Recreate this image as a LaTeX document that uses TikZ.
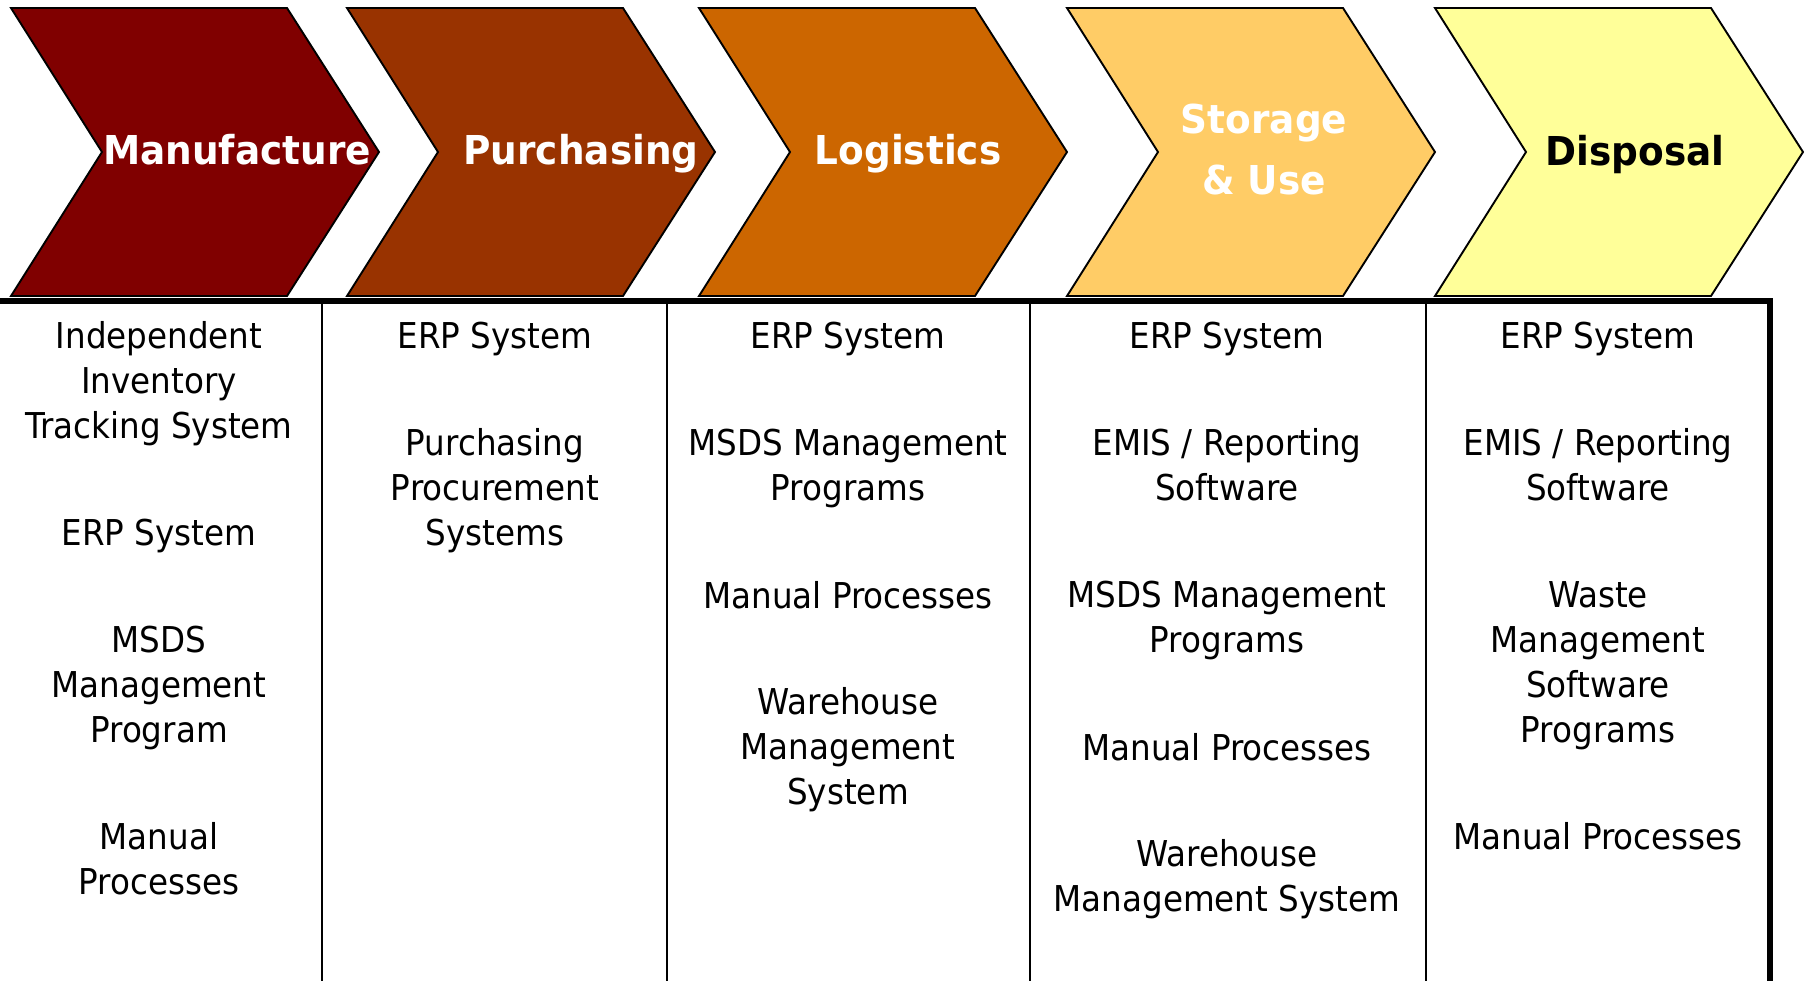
\documentclass[tikz,border=0pt]{standalone}
\usepackage{fontspec}
\setmainfont{DejaVu Sans}[FakeStretch=0.915]
\newfontfamily\hdfont{DejaVu Sans}[FakeStretch=0.94]
\definecolor{cManu}{HTML}{800000}
\definecolor{cPurch}{HTML}{993300}
\definecolor{cLog}{HTML}{CC6600}
\definecolor{cStor}{HTML}{FFCC66}
\definecolor{cDisp}{HTML}{FFFF99}
\begin{document}
\begin{tikzpicture}[x=0.5pt,y=-0.5pt,
  chev/.style={draw=black,line width=0.95pt,line join=miter},
  hd/.style={font=\hdfont\bfseries\fontsize{19.9}{30.5}\selectfont,anchor=base,align=center,inner sep=0pt},
  body/.style={font=\fontsize{17.8}{22.4}\selectfont,anchor=base,align=center,inner sep=0pt},
  toprule/.style={line width=2.6pt},
  divider/.style={line width=1.4pt}]
\useasboundingbox (0,0) rectangle (1805,981);
% chevrons
\foreach \L/\c in {11/cManu,347/cPurch,699/cLog,1067/cStor,1435/cDisp}{
  \draw[chev,fill=\c] (\L,8) -- ++(276,0) -- ++(92,144) -- ++(-92,144) -- ++(-276,0) -- ++(91,-144) -- cycle;
}
% headers (base anchor = baseline of the last line)
\node[hd,text=white] (hManu) at (237,164) {Manufacture};
\node[hd,text=white] (hPurch) at (581,164) {Purchasing};
\node[hd,text=white] (hLog) at (908,164) {Logistics};
\node[hd,text=white] (hStor) at (1264,194) {Storage\\\& Use};
\node[hd,text=black] (hDisp) at (1635,165) {Disposal};
% rules
\draw[toprule] (0,301) -- (1770,301) -- (1770,981);
\foreach \x in {322,667,1030,1426}{
  \draw[divider] (\x,301) -- (\x,981);
}
% column 1
\node[body] (m1) at (159,438) {Independent\\Inventory\\Tracking System};
\node[body] (m2) at (159,545) {ERP System};
\node[body] (m3) at (159,742) {MSDS\\Management\\Program};
\node[body] (m4) at (159,894) {Manual\\Processes};
% column 2
\node[body] (p1) at (495,348) {ERP System};
\node[body] (p2) at (495,545) {Purchasing\\Procurement\\Systems};
% column 3
\node[body] (l1) at (848,348) {ERP System};
\node[body] (l2) at (848,500) {MSDS Management\\Programs};
\node[body] (l3) at (848,608) {Manual Processes};
\node[body] (l4) at (848,804) {Warehouse\\Management\\System};
% column 4
\node[body] (s1) at (1227,348) {ERP System};
\node[body] (s2) at (1227,500) {EMIS / Reporting\\Software};
\node[body] (s3) at (1227,652) {MSDS Management\\Programs};
\node[body] (s4) at (1227,760) {Manual Processes};
\node[body] (s5) at (1227,911) {Warehouse\\Management System};
% column 5
\node[body] (d1) at (1598,348) {ERP System};
\node[body] (d2) at (1598,500) {EMIS / Reporting\\Software};
\node[body] (d3) at (1598,742) {Waste\\Management\\Software\\Programs};
\node[body] (d4) at (1598,849) {Manual Processes};
\end{tikzpicture}
\end{document}
